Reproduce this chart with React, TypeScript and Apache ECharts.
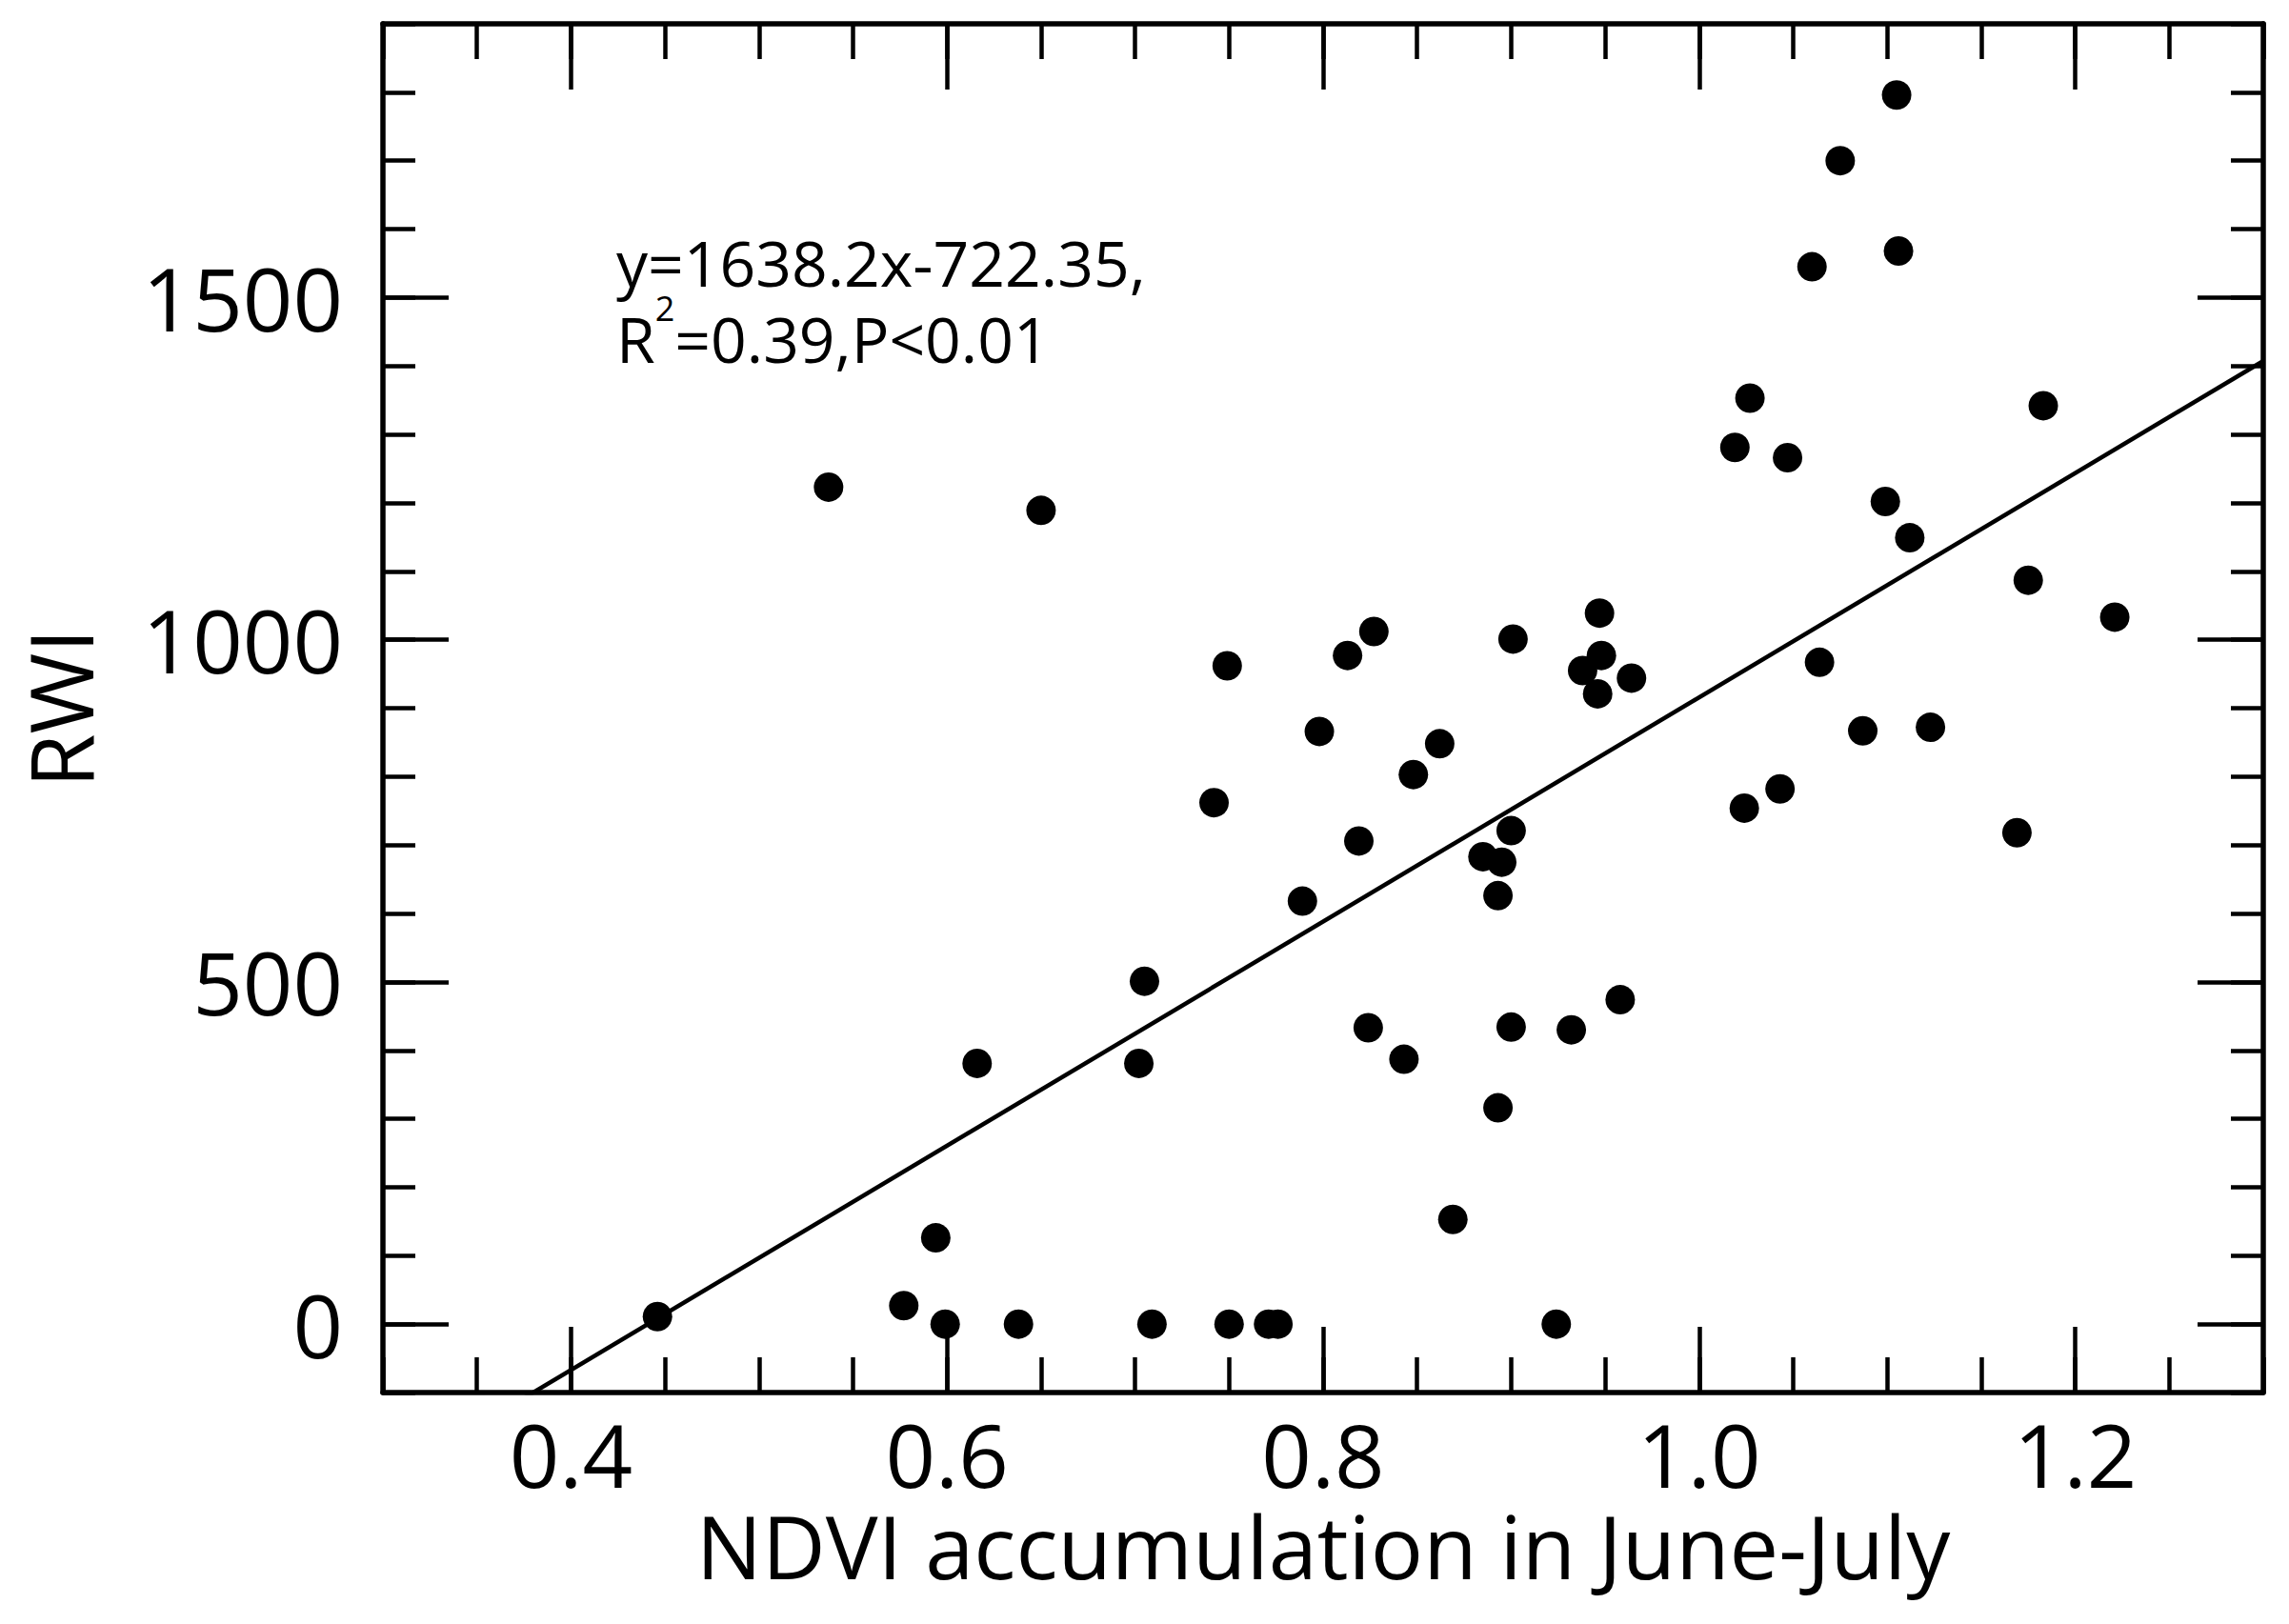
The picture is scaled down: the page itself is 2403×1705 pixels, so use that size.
import React, { useEffect, useRef } from "react";
import * as echarts from "echarts";

const X_MIN = 0.3;
const X_MAX = 1.3;
const Y_MIN = -100;
const Y_MAX = 1900;
const xMajorTicks = [0.4, 0.6, 0.8, 1.0, 1.2];
const yMajorTicks = [0, 500, 1000, 1500];
const X_MINOR_STEP = 0.05;
const Y_MINOR_STEP = 100;

const ndvi = [
  0.446, 0.537, 0.650, 0.577, 0.594, 0.599, 0.616, 0.638, 0.702, 0.705,
  0.709, 0.742, 0.749, 0.750, 0.771, 0.776, 0.789, 0.798, 0.813, 0.819,
  0.824, 0.827, 0.843, 0.848, 0.862, 0.869, 0.885, 0.893, 0.895, 0.893,
  0.900, 0.901, 0.900, 0.924, 0.932, 0.938, 0.947, 0.948, 0.946, 0.958,
  0.964, 1.019, 1.024, 1.027, 1.043, 1.047, 1.060, 1.064, 1.075, 1.087,
  1.099, 1.105, 1.106, 1.112, 1.123, 1.169, 1.175, 1.183, 1.221,
];
const rwi = [
  11, 1223, 1189, 27, 126, 0, 381, 0, 381, 501,
  0, 762, 962, 0, 0, 0, 618, 866, 977, 706,
  433, 1012, 387, 803, 848, 153, 683, 626, 675, 316,
  721, 1001, 434, 0, 430, 955, 1039, 977, 921, 474,
  944, 1281, 754, 1353, 782, 1266, 1545, 967, 1700, 867,
  1202, 1796, 1568, 1149, 872, 718, 1087, 1342, 1033,
];

const SLOPE = 1638.2;
const INTERCEPT = -722.35;
const fitX = [X_MIN, X_MAX];

const EQ_LINE1 = "y=1638.2x-722.35,";
const EQ_R = "R";
const EQ_SUP = "2";
const EQ_LINE2 = "=0.39,P<0.01";
const X_NAME = "NDVI accumulation in June-July";
const Y_NAME = "RWI";

const FONT = "'Open Sans', 'Noto Sans', sans-serif";
const INK = "#000";

export default function App() {
  const ref = useRef<HTMLDivElement>(null);

  useEffect(() => {
    if (!ref.current) return;
    const chart = echarts.init(ref.current, null, { renderer: "svg" });

    const lineW = 5.5;
    const tickW = 4.5;
    const baseX = {
      type: "value",
      min: X_MIN,
      max: X_MAX,
      gridIndex: 0,
      splitLine: { show: false },
    };
    const baseY = {
      type: "value",
      min: Y_MIN,
      max: Y_MAX,
      gridIndex: 0,
      splitLine: { show: false },
    };

    const option: any = {
      animation: false,
      backgroundColor: "#fff",
      grid: { left: 402, right: 27, top: 25, bottom: 243, containLabel: false },
      xAxis: [
        {
          ...baseX,
          position: "bottom",
          axisLine: { show: true, onZero: false, lineStyle: { color: INK, width: lineW } },
          axisTick: {
            show: true,
            inside: true,
            length: 69,
            customValues: xMajorTicks,
            lineStyle: { color: INK, width: tickW },
          },
          axisLabel: {
            show: true,
            customValues: xMajorTicks,
            formatter: (v: number) => v.toFixed(1),
            color: INK,
            fontFamily: FONT,
            fontSize: 92,
            lineHeight: 70,
            margin: 29,
          },
          name: X_NAME,
          nameLocation: "middle",
          nameGap: 123,
          nameTextStyle: { color: INK, fontFamily: FONT, fontSize: 92, lineHeight: 70 },
        },
        {
          ...baseX,
          position: "bottom",
          interval: X_MINOR_STEP,
          axisLine: { show: false, onZero: false },
          axisTick: { show: true, inside: true, length: 37, lineStyle: { color: INK, width: tickW } },
          axisLabel: { show: false },
        },
        {
          ...baseX,
          position: "top",
          axisLine: { show: true, onZero: false, lineStyle: { color: INK, width: lineW } },
          axisTick: {
            show: true,
            inside: true,
            length: 69,
            customValues: xMajorTicks,
            lineStyle: { color: INK, width: tickW },
          },
          axisLabel: { show: false },
        },
        {
          ...baseX,
          position: "top",
          interval: X_MINOR_STEP,
          axisLine: { show: false, onZero: false },
          axisTick: { show: true, inside: true, length: 37, lineStyle: { color: INK, width: tickW } },
          axisLabel: { show: false },
        },
      ],
      yAxis: [
        {
          ...baseY,
          position: "left",
          axisLine: { show: true, onZero: false, lineStyle: { color: INK, width: lineW } },
          axisTick: {
            show: true,
            inside: true,
            length: 69,
            customValues: yMajorTicks,
            lineStyle: { color: INK, width: tickW },
          },
          axisLabel: {
            show: true,
            customValues: yMajorTicks,
            formatter: (v: number) => String(v),
            color: INK,
            fontFamily: FONT,
            fontSize: 92,
            margin: 42,
          },
          name: Y_NAME,
          nameLocation: "middle",
          nameGap: 294,
          nameRotate: 90,
          nameTextStyle: { color: INK, fontFamily: FONT, fontSize: 92 },
        },
        {
          ...baseY,
          position: "left",
          interval: Y_MINOR_STEP,
          axisLine: { show: false, onZero: false },
          axisTick: { show: true, inside: true, length: 34, lineStyle: { color: INK, width: tickW } },
          axisLabel: { show: false },
        },
        {
          ...baseY,
          position: "right",
          axisLine: { show: true, onZero: false, lineStyle: { color: INK, width: lineW } },
          axisTick: {
            show: true,
            inside: true,
            length: 69,
            customValues: yMajorTicks,
            lineStyle: { color: INK, width: tickW },
          },
          axisLabel: { show: false },
        },
        {
          ...baseY,
          position: "right",
          interval: Y_MINOR_STEP,
          axisLine: { show: false, onZero: false },
          axisTick: { show: true, inside: true, length: 34, lineStyle: { color: INK, width: tickW } },
          axisLabel: { show: false },
        },
      ],
      series: [
        {
          type: "line",
          xAxisIndex: 0,
          yAxisIndex: 0,
          data: fitX.map((x) => [x, SLOPE * x + INTERCEPT]),
          showSymbol: false,
          symbol: "none",
          clip: true,
          lineStyle: { color: INK, width: 4.5 },
          silent: true,
          z: 2,
        },
        {
          type: "scatter",
          xAxisIndex: 0,
          yAxisIndex: 0,
          data: ndvi.map((x, i) => [x, rwi[i]]),
          symbol: "circle",
          symbolSize: 31,
          itemStyle: { color: INK, opacity: 1 },
          z: 3,
        },
      ],
      graphic: [
        {
          type: "text",
          left: 647,
          top: 242,
          style: {
            text: `{a|${EQ_LINE1}}\n{b|${EQ_R}}{s|${EQ_SUP}}{b|${EQ_LINE2}}`,
            fill: INK,
            rich: {
              a: { fontSize: 66, fontFamily: FONT, lineHeight: 60, fill: INK },
              b: { fontSize: 66, fontFamily: FONT, lineHeight: 100, fill: INK },
              s: { fontSize: 36, fontFamily: FONT, lineHeight: 36, verticalAlign: "top", fill: INK },
            },
          },
        },
      ],
    };

    chart.setOption(option);
    return () => chart.dispose();
  }, []);

  return (
    <div
      ref={ref}
      style={{ position: "absolute", left: 0, top: 0, width: 2403, height: 1705, background: "#fff" }}
    />
  );
}
